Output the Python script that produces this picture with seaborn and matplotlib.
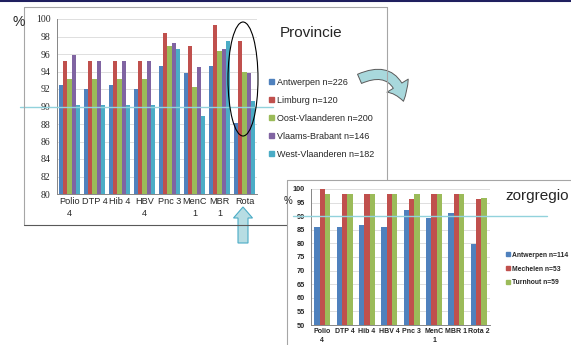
import pandas as pd
import matplotlib
matplotlib.use("Agg")
import matplotlib.pyplot as plt
import seaborn as sns
from matplotlib.lines import Line2D
from matplotlib.patches import Ellipse, FancyArrowPatch, FancyArrow

# -------------------------
# Data
# -------------------------

vaccins_prov = ["Polio\n4", "DTP 4", "Hib 4", "HBV\n4", "Pnc 3", "MenC\n1", "MBR\n1", "Rota"]
provincies = ["Antwerpen n=226", "Limburg n=120", "Oost-Vlaanderen n=200",
              "Vlaams-Brabant n=146", "West-Vlaanderen n=182"]
antwerpen = [92.5, 92.0, 92.5, 92.0, 94.6, 93.8, 94.6, 88.1]
limburg = [95.2, 95.2, 95.2, 95.2, 98.4, 96.9, 99.3, 97.5]
oost_vl = [93.1, 93.1, 93.1, 93.1, 96.9, 92.2, 96.4, 94.0]
vl_brabant = [95.9, 95.2, 95.2, 95.2, 97.3, 94.5, 96.6, 93.8]
west_vl = [90.2, 90.2, 90.2, 90.2, 96.6, 88.9, 97.5, 90.6]

vaccins_zorg = ["Polio\n4", "DTP 4", "Hib 4", "HBV 4", "Pnc 3", "MenC\n1", "MBR 1", "Rota 2"]
regios = ["Antwerpen n=114", "Mechelen n=53", "Turnhout n=59"]
zorg_antwerpen = [86.0, 86.0, 86.8, 86.0, 92.1, 89.5, 91.2, 79.8]
zorg_mechelen = [100.0, 98.2, 98.2, 98.2, 96.2, 98.2, 98.2, 96.2]
zorg_turnhout = [98.2, 98.2, 98.2, 98.2, 98.2, 98.2, 98.2, 96.6]

colors5 = ["#4F81BD", "#C0504D", "#9BBB59", "#8064A2", "#4BACC6"]
colors3 = colors5[:3]

prov_df = pd.DataFrame({
    "vaccin": vaccins_prov * 5,
    "regio": [p for p in provincies for _ in vaccins_prov],
    "pct": antwerpen + limburg + oost_vl + vl_brabant + west_vl,
})
zorg_df = pd.DataFrame({
    "vaccin": vaccins_zorg * 3,
    "regio": [r for r in regios for _ in vaccins_zorg],
    "pct": zorg_antwerpen + zorg_mechelen + zorg_turnhout,
})

# -------------------------
# Figure + helpers (pixel -> figure fraction)
# -------------------------

W, H = 571, 345
fig = plt.figure(figsize=(W / 100, H / 100), dpi=100)
sns.set_style("white")
plt.rcParams["font.family"] = ["Liberation Sans", "DejaVu Sans"]


def fx(x):
    return x / W


def fy(y):
    return 1 - y / H


def fig_line(x0, y0, x1, y1, color="#A6A6A6", lw=0.8):
    fig.add_artist(Line2D([fx(x0), fx(x1)], [fy(y0), fy(y1)],
                          transform=fig.transFigure, color=color, lw=lw))


# frames of the two pasted charts
fig_line(0, 1, W, 1, color="#1F1F5F", lw=1.5)
fig_line(24, 7, 387, 7)
fig_line(24, 7, 24, 225)
fig_line(24, 225, 287, 225, color="#595959")
fig_line(387, 7, 387, 180)
fig_line(287, 180, W, 180)
fig_line(287, 180, 287, H)


def style_axes(ax, ymin, ymax, step, ylab_font, ylab_size, xlab_size, bold, xpad):
    ax.set_ylim(ymin, ymax)
    ax.set_xlim(-0.5, 7.5)
    ax.set_yticks(range(ymin, ymax + 1, step))
    ax.yaxis.grid(True, color="#D9D9D9", lw=0.6)
    ax.set_axisbelow(True)
    for s in ["top", "right"]:
        ax.spines[s].set_visible(False)
    for s in ["left", "bottom"]:
        ax.spines[s].set_color("#868686")
        ax.spines[s].set_linewidth(0.7)
    ax.set_xlabel("")
    ax.set_ylabel("")
    ax.set_xticks([i - 0.5 for i in range(9)], minor=True)
    ax.tick_params(axis="x", which="minor", length=3, color="#868686", width=0.7)
    ax.tick_params(axis="x", which="major", length=0, pad=xpad, labelsize=xlab_size)
    ax.tick_params(axis="y", length=3, color="#868686", width=0.7, pad=1.5,
                   labelsize=ylab_size)
    for t in ax.get_yticklabels():
        t.set_family(ylab_font)
        if bold:
            t.set_weight("bold")
    for t in ax.get_xticklabels():
        t.set_linespacing(1.35)
        if bold:
            t.set_weight("bold")
    if ax.get_legend():
        ax.get_legend().remove()


# -------------------------
# 1. Provincie chart
# -------------------------

ax1 = fig.add_axes([fx(57), fy(194), fx(257) - fx(57), fy(19) - fy(194)])
sns.barplot(data=prov_df, x="vaccin", y="pct", hue="regio", palette=colors5,
            saturation=1, width=0.84, linewidth=0, ax=ax1, errorbar=None)
style_axes(ax1, 80, 100, 2, "Liberation Serif", 7, 6.6, False, 2.5)
ax1.axhline(90, xmin=(20 - 57) / 200, xmax=(273 - 57) / 200, clip_on=False,
            color="#92D2DC", lw=1.0, zorder=5)

handles = [plt.Rectangle((0, 0), 1, 1, color=c) for c in colors5]
fig.legend(handles, provincies, loc="upper left", bbox_to_anchor=(fx(265), fy(74)),
           frameon=False, fontsize=6.5, handlelength=0.6, handleheight=0.6,
           handletextpad=0.3, labelspacing=1.0, borderaxespad=0)

fig.text(fx(19), fy(22), "%", fontsize=10, ha="center", va="center")
fig.text(fx(280), fy(33), "Provincie", fontsize=11, ha="left", va="center")

# -------------------------
# 2. Zorgregio chart
# -------------------------

ax2 = fig.add_axes([fx(311), fy(325), fx(490) - fx(311), fy(189) - fy(325)])
sns.barplot(data=zorg_df, x="vaccin", y="pct", hue="regio", palette=colors3,
            saturation=1, width=0.72, linewidth=0, ax=ax2, errorbar=None)
style_axes(ax2, 50, 100, 5, "Liberation Sans", 5.3, 5.0, True, 2.5)
ax2.axhline(90, xmin=(293 - 311) / 179, xmax=(547 - 311) / 179, clip_on=False,
            color="#92D2DC", lw=1.0, zorder=5)

handles = [plt.Rectangle((0, 0), 1, 1, color=c) for c in colors3]
leg2 = fig.legend(handles, regios, loc="upper left", bbox_to_anchor=(fx(503), fy(249)),
                  frameon=False, fontsize=4.9, handlelength=0.6, handleheight=0.6,
                  handletextpad=0.3, labelspacing=1.0, borderaxespad=0)
for t in leg2.get_texts():
    t.set_weight("bold")

fig.text(fx(288), fy(201), "%", fontsize=7, ha="center", va="center")
fig.text(fx(505), fy(196), "zorgregio", fontsize=11, ha="left", va="center")

# -------------------------
# Annotations: ellipse and arrows
# -------------------------

fig.add_artist(Ellipse((fx(243), fy(79)), width=30 / W, height=114 / H,
                       transform=fig.transFigure, fill=False, ec="black", lw=0.8))

fig.add_artist(FancyArrowPatch((fx(357), fy(80)), (fx(404), fy(104)),
                               transform=fig.transFigure,
                               connectionstyle="arc3,rad=-0.65",
                               arrowstyle="simple,head_width=1.5,head_length=1.0,tail_width=0.6",
                               mutation_scale=12, fc="#A8D8DC", ec="#5A5A5A", lw=0.7))

fig.add_artist(FancyArrow(fx(243), fy(243), 0, fy(207) - fy(243), width=10 / W,
                          head_width=19 / W, head_length=11 / H,
                          length_includes_head=True, transform=fig.transFigure,
                          fc="#B7DDE3", ec="#4BACC6", lw=0.8))

fig.savefig("out.png", dpi=100)
